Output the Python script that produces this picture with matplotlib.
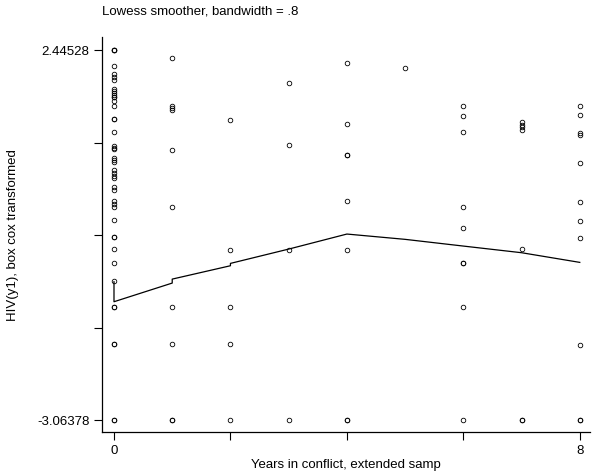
import matplotlib
matplotlib.use('Agg')
import matplotlib.pyplot as plt

plt.rcParams['font.family'] = ['Liberation Sans', 'DejaVu Sans']

# valeurs, une liste par année de conflit
hiv_0 = [2.44528, 2.44528, 2.44528, 2.207, 2.088, 2.043, 1.999, 1.865, 1.835, 1.805,
         1.775, 1.745, 1.745, 1.686, 1.616, 1.418, 1.418, 1.224, 1.016, 0.986, 0.971,
         0.837, 0.807, 0.778, 0.659, 0.614, 0.569, 0.540, 0.405, 0.361, 0.197, 0.152,
         0.108, -0.086, -0.339, -0.339, -0.522, -0.731, -0.994, -1.377, -1.377,
         -1.937, -1.937, -3.06378, -3.06378]
hiv_1 = [2.322, 1.611, 1.582, 1.552, 0.956, 0.112, -1.377, -1.937, -3.06378, -3.06378]
hiv_2 = [1.403, -0.532, -1.377, -1.937, -3.06378]
hiv_3 = [1.949, 1.031, -0.532, -3.06378]
hiv_4 = [2.247, 1.339, 0.882, 0.882, 0.197, -0.532, -3.06378, -3.06378]
hiv_5 = [2.182]
hiv_6 = [1.616, 1.463, 1.229, 0.112, -0.209, -0.731, -0.731, -1.377, -3.06378]
hiv_7 = [1.373, 1.336, 1.299, 1.254, -0.522, -3.06378, -3.06378]
hiv_8 = [1.616, 1.477, 1.209, 1.180, 0.767, 0.187, -0.096, -0.358, -1.947,
         -3.06378, -3.06378]

# courbe lowess (bandwidth .8)
lowess_x = [0, 0, 1, 1, 2, 2, 3, 4, 5, 6, 7, 8]
lowess_y = [-1.004, -1.302, -1.024, -0.965, -0.766, -0.731, -0.518, -0.294,
            -0.373, -0.473, -0.572, -0.716]

y_min = -3.06378
y_max = 2.44528

groups = [hiv_0, hiv_1, hiv_2, hiv_3, hiv_4, hiv_5, hiv_6, hiv_7, hiv_8]
xs = []
ys = []
for year, vals in enumerate(groups):
    for v in vals:
        xs.append(year)
        ys.append(v)

fig = plt.figure(figsize=(6, 4.76), dpi=100)
ax = fig.add_axes([0.17, 0.0924, 0.813, 0.8296])

ax.plot(xs, ys, 'o', markersize=3.3, markerfacecolor='none',
        markeredgecolor='black', markeredgewidth=0.6, linestyle='none')
ax.plot(lowess_x, lowess_y, color='black', linewidth=0.9)

ax.set_xlim(-0.206, 8.172)
ax.set_ylim(-3.2424, 2.6388)

ax.spines['top'].set_visible(False)
ax.spines['right'].set_visible(False)
ax.spines['left'].set_linewidth(0.9)
ax.spines['bottom'].set_linewidth(0.9)

ax.set_xticks([0, 2, 4, 6, 8])
ax.set_xticklabels(['0', '', '', '', '8'])
step = (y_max - y_min) / 4
ax.set_yticks([y_min + i * step for i in range(5)])
ax.set_yticklabels(['-3.06378', '', '', '', '2.44528'])
ax.tick_params(direction='out', length=6, width=0.8, labelsize=9.5, pad=3)

ax.set_xlabel('Years in conflict, extended samp', fontsize=9.5, labelpad=2)
ax.set_ylabel('HIV(y1), box cox transformed', fontsize=9.5, va='center')
ax.yaxis.set_label_coords(-0.182, 0.5)
fig.text(0.17, 0.975, 'Lowess smoother, bandwidth = .8', fontsize=9.5, va='center')

fig.savefig('out.png', dpi=100)
